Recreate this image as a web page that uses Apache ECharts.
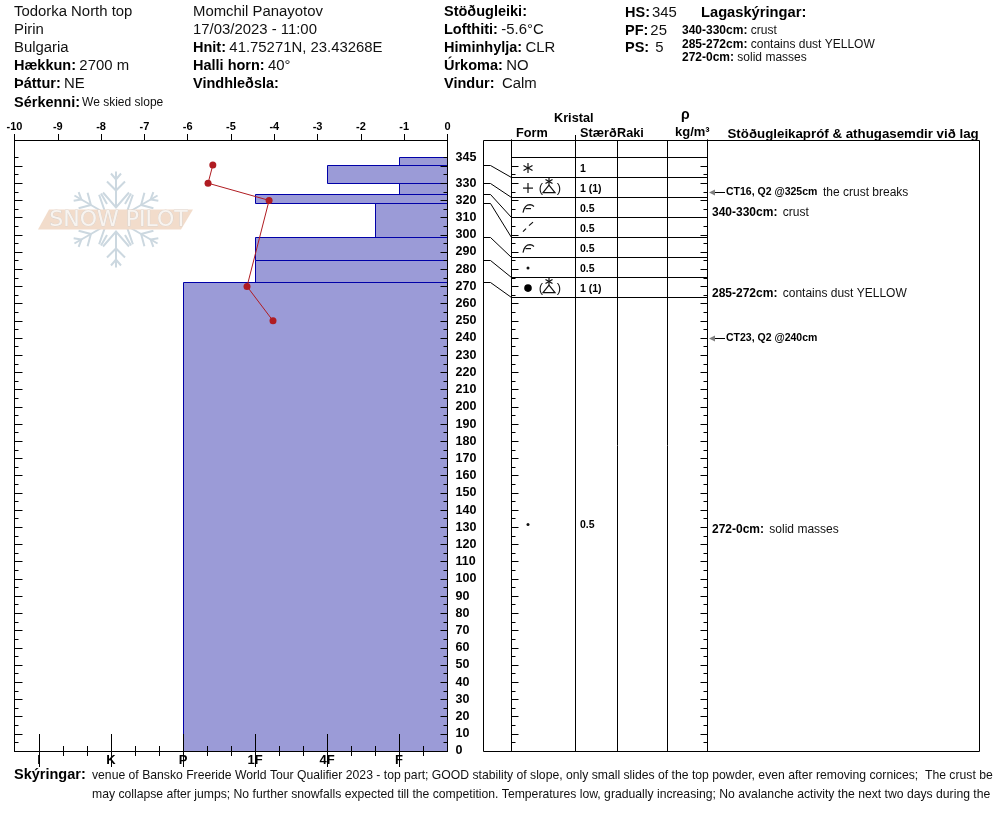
<!DOCTYPE html>
<html><head><meta charset="utf-8">
<style>html,body{margin:0;padding:0;background:#fff;overflow:hidden}#c{width:994px;height:840px}</style>
<script src="https://cdn.jsdelivr.net/npm/echarts@6/dist/echarts.min.js"></script>
</head><body><div id="c"></div>
<script>
// ---------- data ----------
const layerTops    = [345, 340, 330, 323.5, 318, 298.7, 285, 272.3];
const layerBottoms = [340, 330, 323.5, 318, 298.7, 285, 272.3, 0];
const layerHardness= [1, 2, 1, 3, 1.333, 3, 3, 4];
const tempValues   = [-5.42, -5.53, -4.12, -4.63, -4.03];
const tempHeights  = [340.5, 330, 320, 270, 250];
const hardnessTicks = [6, 5, 4, 3, 2, 1];
const hardnessLabels = ['I', 'K', 'P', '1F', '4F', 'F'];
const hardnessMinor = [5.667,5.333,4.667,4.333,3.667,3.333,2.667,2.333,1.667,1.333,0.667];
const heightMajor = [0,10,20,30,40,50,60,70,80,90,100,110,120,130,140,150,160,170,180,190,200,210,220,230,240,250,260,270,280,290,300,310,320,330,340];
const heightMinor = [5,15,25,35,45,55,65,75,85,95,105,115,125,135,145,155,165,175,185,195,205,215,225,235,245,255,265,275,285,295,305,315,325,335,345];
const heightLabels = [0,10,20,30,40,50,60,70,80,90,100,110,120,130,140,150,160,170,180,190,200,210,220,230,240,250,260,270,280,290,300,310,320,330,345];
const connectorHeights = [340, 330, 323.5, 318, 298.7, 285, 272.3];
const rowForms = [['star'], ['plus','faceted'], ['hook'], ['dashes'], ['hook'], ['dot'], ['bigdot','faceted'], ['dot']];
const rowSizes = ['1', '1 (1)', '0.5', '0.5', '0.5', '0.5', '1 (1)', '0.5'];
const testHeights = [325, 240];
const testNames = ['CT16, Q2 @325cm', 'CT23, Q2 @240cm'];
const testNotes = ['the crust breaks', ''];
const commentKeys = ['340-330cm:', '285-272cm:', '272-0cm:'];
const commentTexts = ['crust', 'contains dust YELLOW', 'solid masses'];
const infoCol1 = [['', 'Todorka North top'], ['', 'Pirin'], ['', 'Bulgaria'], ['Hækkun:', '2700 m'], ['Þáttur:', 'NE']];
const infoCol2 = [['', 'Momchil Panayotov'], ['', '17/03/2023 - 11:00'], ['Hnit:', '41.75271N, 23.43268E'], ['Halli horn:', '40°'], ['Vindhleðsla:', '']];
const infoCol3 = [['Stöðugleiki:', ''], ['Lofthiti:', '-5.6°C'], ['Himinhylja:', 'CLR'], ['Úrkoma:', 'NO'], ['Vindur:', ' Calm']];
const infoCol4 = [['HS:', '345'], ['PF:', '25'], ['PS:', ' 5']];
const noteLines = [
 'venue of Bansko Freeride World Tour Qualifier 2023 - top part; GOOD stability of slope, only small slides of the top powder, even after removing cornices;  The crust be',
 'may collapse after jumps; No further snowfalls expected till the competition. Temperatures low, gradually increasing; No avalanche activity the next two days during the'
];

// ---------- layout ----------
const FONT = '"Liberation Sans", Arial, sans-serif';
const PX_TOP = 140, PX_H = 611, HEIGHT_MAX = 355.1;
const BLUE = '#0000a8', FILL = '#9b9bd7', RED = '#b01c22';
const colEdges = [511.5, 575.5, 617.5, 667.5, 707.5];
const HARD_MIN = 0.3264, HARD_MAX = 6.34;
const rowTop = 0.855;  // in row units from frame top
const commentPx = [213, 293.5, 530];

const rb = (size, pad) => ({ font: `bold ${size}px ${FONT}`, fill: '#000', padding: [0, pad || 0, 0, 0] });
const rr = (size) => ({ font: `${size}px ${FONT}`, fill: '#111' });
function T(x, y, text, size, bold) {
  return { type: 'text', x, y, z: 30, silent: true,
    style: { text, fill: bold ? '#000' : '#111', font: `${bold ? 'bold ' : ''}${size}px ${FONT}`, verticalAlign: 'middle', align: 'left' } };
}
function R(x, y, k, v, sb, sr, tight) {
  const s = (k ? `{b|${k}}${tight ? '' : ' '}` : '') + (v ? `{r|${v}}` : '');
  return { type: 'text', x, y, z: 30, silent: true,
    style: { text: s, verticalAlign: 'middle', align: 'left', rich: { b: rb(sb, tight ? 2 : 0), r: rr(sr) } } };
}
function L(x1, y1, x2, y2) {
  return { type: 'line', z: 20, silent: true, shape: { x1, y1, x2, y2 }, style: { stroke: '#000', lineWidth: 1 } };
}

const graphics = [];
// watermark
const ARM = [[[0,-12],[0,-48]], [[-13,-27],[0,-12],[13,-27]], [[-9,-38],[0,-29],[9,-38]], [[-5,-46],[0,-40],[5,-46]]];
const INNER = [[[0,-18],[0,-30]]];
const flake = (segs, a) => segs.forEach((s) => graphics.push({ type: 'polyline', x: 116, y: 219.5, rotation: a, z: 1, silent: true,
    shape: { points: s }, style: { stroke: '#ccd8e0', lineWidth: 2, fill: null } }));
for (let i = 0; i < 6; i++) { flake(ARM, i * Math.PI / 3); flake(INNER, (i + 0.5) * Math.PI / 3); }
graphics.push({ type: 'polygon', z: 2, silent: true, shape: { points: [[38,229.5],[49,209.5],[193,209.5],[181,229.5]] }, style: { fill: '#f2dccb' } });
graphics.push({ type: 'text', x: 118.5, y: 220, z: 3, silent: true, style: { text: 'SNOW PILOT', align: 'center', verticalAlign: 'middle',
  font: `22px "DejaVu Sans", sans-serif`, fill: '#f8f4f0', stroke: '#cfcfcf', lineWidth: 0.6 } });
// header text
const headY = [12, 30, 48, 66, 84];
infoCol1.forEach((r, i) => graphics.push(R(14, headY[i], r[0], r[1], 14.5, 14.9)));
infoCol2.forEach((r, i) => graphics.push(R(193, headY[i], r[0], r[1], 14.5, 14.9)));
infoCol3.forEach((r, i) => graphics.push(R(444, headY[i], r[0], r[1], 14.5, 14.9)));
[13, 30.5, 48].forEach((y, i) => graphics.push(R(625, y, infoCol4[i][0], infoCol4[i][1], 14.5, 14.9, true)));
graphics.push(R(14, 103, 'Sérkenni:', 'We skied slope', 14.5, 12, true));
graphics.push(T(701, 13, 'Lagaskýringar:', 14.7, true));
[31, 44.5, 58].forEach((y, i) => graphics.push(R(682, y, commentKeys[i], commentTexts[i], 12, 12)));
// column titles
graphics.push(T(554, 118, 'Kristal', 12.7, true));
graphics.push(T(516, 133.5, 'Form', 12.7, true));
graphics.push(T(580, 133.5, 'Stærð', 12.7, true));
graphics.push(T(617, 133.5, 'Raki', 12.7, true));
graphics.push(T(681, 115, 'ρ', 14, true));
graphics.push(T(675, 132, 'kg/m³', 13, true));
graphics.push(T(727.5, 134, 'Stöðugleikapróf & athugasemdir við lag', 13.3, true));
// frame
graphics.push({ type: 'rect', z: 20, silent: true, shape: { x: 483.5, y: PX_TOP + 0.5, width: 496, height: PX_H }, style: { fill: null, stroke: '#000', lineWidth: 1 } });
colEdges.forEach((x, i) => graphics.push(L(x, i === 1 ? 135 : PX_TOP, x, PX_TOP + PX_H)));
// notes
graphics.push(T(14, 775, 'Skýringar:', 14.5, true));
graphics.push(T(92, 775.5, noteLines[0], 12.2, false));
graphics.push(T(92, 794.5, noteLines[1], 12.2, false));

function xa(extra) {
  return Object.assign({ gridIndex: 0, type: 'value', z: 10, silent: true, splitLine: { show: false },
    axisLine: { show: false }, axisTick: { show: false }, axisLabel: { show: false } }, extra);
}
const hardRange = { min: HARD_MIN, max: HARD_MAX, inverse: true };
const ticks = (vals, len, inside) => ({ show: true, inside, length: len, customValues: vals, lineStyle: { color: '#000', width: 1 } });

const xAxes = [
  xa({ position: 'top', min: -10, max: 0, interval: 1, axisLine: { show: true, onZero: false, lineStyle: { color: '#000' } },
       axisTick: { show: true, length: 6, lineStyle: { color: '#000' } },
       axisLabel: { show: true, margin: 8, color: '#000', fontFamily: FONT, fontWeight: 'bold', fontSize: 11, hideOverlap: false } }),
  xa(Object.assign({ position: 'bottom', axisLine: { show: true, onZero: false, lineStyle: { color: '#000' } }, axisTick: ticks(hardnessTicks, 17, true),
       axisLabel: { show: true, margin: 3, color: '#000', fontFamily: FONT, fontWeight: 'bold', fontSize: 13, customValues: hardnessTicks,
         formatter: (v) => hardnessLabels[hardnessTicks.indexOf(v)] } }, hardRange)),
  xa(Object.assign({ position: 'bottom', axisTick: ticks(hardnessMinor, 5, true) }, hardRange)),
  xa(Object.assign({ position: 'top', axisTick: ticks(hardnessTicks, 16, true) }, hardRange)),
  xa(Object.assign({ position: 'top', axisTick: ticks(hardnessMinor, 5, true) }, hardRange)),
  xa({ gridIndex: 1, position: 'bottom', min: 0, max: 1 })
];
function ya(grid, pos, vals, len, extra) {
  return Object.assign({ gridIndex: grid, type: 'value', position: pos, min: 0, max: HEIGHT_MAX, z: 10, silent: true, splitLine: { show: false },
    axisLine: { show: true, onZero: false, lineStyle: { color: '#000' } }, axisTick: ticks(vals, len, true), axisLabel: { show: false } }, extra || {});
}
const yAxes = [
  ya(0, 'left', heightMajor, 8), ya(0, 'left', heightMinor, 4),
  ya(0, 'right', heightMajor, 7, { axisLabel: { show: true, inside: false, margin: 8, align: 'left', color: '#000', fontFamily: FONT,
      fontWeight: 'bold', fontSize: 12.5, customValues: heightLabels } }),
  ya(0, 'right', heightMinor, 4),
  ya(1, 'left', heightMajor, 7), ya(1, 'left', heightMinor, 4),
  ya(1, 'right', heightMajor, 7), ya(1, 'right', heightMinor, 4),
  { gridIndex: 1, type: 'value', min: 0, max: PX_H / 20, inverse: true, show: false }
];
const ROW_AXIS = 8;

// glyph strokes, centred on 0,0
const STAR = [[[0,-5],[0,5]], [[-4.5,-2.5],[4.5,2.5]], [[-4.5,2.5],[4.5,-2.5]]];
const GLYPH = {
  star: STAR,
  plus: [[[-5,0],[5,0]], [[0,-5],[0,5]]],
  hook: [[[-5,4.5],[-4,1],[-2.5,-1.5],[-0.5,-3],[2,-3.5],[4,-3],[6,-1.5]], [[-2.5,0.5],[3,0.5]]],
  dashes: [[[-5,3.5],[-2,0.5]], [[1,-2.5],[5,-6]]],
  facetedMark: [[[0,-10],[0,-3]], [[-3.5,-8.5],[3.5,-4.5]], [[-3.5,-4.5],[3.5,-8.5]], [[0,-3],[-6,4.5],[6,4.5],[0,-3]]]
};
const strokes = (segs, cx, cy) => segs.map((s) => ({ type: 'polyline', x: cx, y: cy, shape: { points: s }, style: { stroke: '#111', lineWidth: 1.2, fill: null } }));
function glyphEls(name, cx, cy) {
  if (name === 'dot') return [{ type: 'circle', shape: { cx, cy, r: 1.5 }, style: { fill: '#111' } }];
  if (name === 'bigdot') return [{ type: 'circle', shape: { cx, cy, r: 3.8 }, style: { fill: '#000' } }];
  if (name === 'faceted') return [
    { type: 'text', x: cx + 13, y: cy, style: { text: '(', font: `13px ${FONT}`, fill: '#111', verticalAlign: 'middle', align: 'center' } },
    { type: 'text', x: cx + 31, y: cy, style: { text: ')', font: `13px ${FONT}`, fill: '#111', verticalAlign: 'middle', align: 'center' } }
  ].concat(strokes(GLYPH.facetedMark, cx + 21, cy));
  return strokes(GLYPH[name], cx, cy);
}

const option = {
  animation: false,
  backgroundColor: '#fff',
  grid: [
    { left: 14.5, top: PX_TOP, width: 433, height: PX_H },
    { left: colEdges[0], top: PX_TOP, width: colEdges[4] - colEdges[0], height: PX_H }
  ],
  xAxis: xAxes,
  yAxis: yAxes,
  graphic: { elements: graphics },
  series: [
    { type: 'custom', name: 'layers', xAxisIndex: 1, yAxisIndex: 0, z: 2, silent: true, clip: false,
      data: layerHardness.map((h, i) => [h, layerTops[i], layerBottoms[i]]),
      renderItem(p, api) {
        const a = api.coord([api.value(0), api.value(1)]);
        const b = api.coord([api.value(0), api.value(2)]);
        const x = Math.round(a[0]) + 0.5, y = Math.floor(a[1]) + 0.5, y2 = Math.floor(b[1]) + 0.5;
        const right = Math.floor(p.coordSys.x + p.coordSys.width) + 0.5;
        return { type: 'rect', shape: { x, y, width: right - x, height: y2 - y },
          style: { fill: FILL, stroke: BLUE, lineWidth: 1 } };
      } },
    { type: 'line', name: 'temperature', xAxisIndex: 0, yAxisIndex: 0, z: 12, silent: true,
      data: tempValues.map((t, i) => [t, tempHeights[i]]), symbol: 'circle', symbolSize: 7,
      lineStyle: { color: RED, width: 1 }, itemStyle: { color: RED } },
    { type: 'custom', name: 'connectors', xAxisIndex: 5, yAxisIndex: 4, z: 3, silent: true, clip: false,
      data: connectorHeights.map((h, i) => [i, h]),
      renderItem(p, api) {
        const y = Math.floor(api.coord([0, api.value(1)])[1]) + 0.5;
        const x1 = p.coordSys.x;
        const rowY = PX_TOP + 37.5 + 20 * api.value(0);
        return { type: 'polyline', shape: { points: [[x1 - 28, y], [x1 - 21, y], [x1, rowY]] },
          style: { stroke: '#000', lineWidth: 1, fill: null } };
      } },
    { type: 'custom', name: 'rows', xAxisIndex: 5, yAxisIndex: ROW_AXIS, z: 4, silent: true, clip: false,
      data: rowSizes.map((s, i) => [i]),
      renderItem(p, api) {
        const i = api.value(0);
        const last = i === rowSizes.length - 1;
        const top = api.coord([0, rowTop + i])[1];
        const bot = last ? p.coordSys.y + p.coordSys.height : api.coord([0, rowTop + i + 1])[1];
        const cy = (top + bot) / 2 + (last ? 0.5 : 1);
        const x0 = p.coordSys.x, x1 = x0 + p.coordSys.width;
        const kids = [{ type: 'line', shape: { x1: x0, y1: Math.round(top) + 0.5, x2: x1, y2: Math.round(top) + 0.5 }, style: { stroke: '#000', lineWidth: 1 } }];
        if (!last) kids.push({ type: 'line', shape: { x1: x0, y1: Math.round(bot) + 0.5, x2: x1, y2: Math.round(bot) + 0.5 }, style: { stroke: '#000', lineWidth: 1 } });
        rowForms[i].forEach((g) => glyphEls(g, x0 + 16.5, cy).forEach((e) => kids.push(e)));
        kids.push({ type: 'text', x: x0 + 68.5, y: cy + 1, style: { text: rowSizes[i], font: `bold 10.5px ${FONT}`, fill: '#000', verticalAlign: 'middle' } });
        return { type: 'group', children: kids };
      } },
    { type: 'custom', name: 'tests', xAxisIndex: 5, yAxisIndex: 4, z: 5, silent: true, clip: false,
      data: testHeights.map((h, i) => [i, h]),
      renderItem(p, api) {
        const i = api.value(0);
        const y = Math.round(api.coord([0, api.value(1)])[1]) + 0.5;
        const x = p.coordSys.x + p.coordSys.width + 1.5;
        const kids = [
          { type: 'line', shape: { x1: x + 4, y1: y, x2: x + 16, y2: y }, style: { stroke: '#000', lineWidth: 1 } },
          { type: 'polygon', shape: { points: [[x, y], [x + 6, y - 3], [x + 6, y + 3]] }, style: { fill: '#808080' } },
          { type: 'text', x: x + 17, y, style: { text: testNames[i], font: `bold 10.5px ${FONT}`, fill: '#000', verticalAlign: 'middle' } }
        ];
        if (testNotes[i]) kids.push({ type: 'text', x: x + 114, y, style: { text: testNotes[i], font: `12px ${FONT}`, fill: '#111', verticalAlign: 'middle' } });
        return { type: 'group', children: kids };
      } },
    { type: 'custom', name: 'comments', xAxisIndex: 5, yAxisIndex: ROW_AXIS, z: 5, silent: true, clip: false,
      data: commentKeys.map((k, i) => [i]),
      renderItem(p, api) {
        const i = api.value(0);
        const x = p.coordSys.x + p.coordSys.width + 4.5;
        return { type: 'text', x, y: commentPx[i], style: { text: `{b|${commentKeys[i]}} {r|${commentTexts[i]}}`, verticalAlign: 'middle',
          rich: { b: rb(12, 2), r: rr(12) } } };
      } }
  ]
};
echarts.init(document.getElementById('c'), null, { renderer: 'canvas' }).setOption(option);
</script></body></html>
